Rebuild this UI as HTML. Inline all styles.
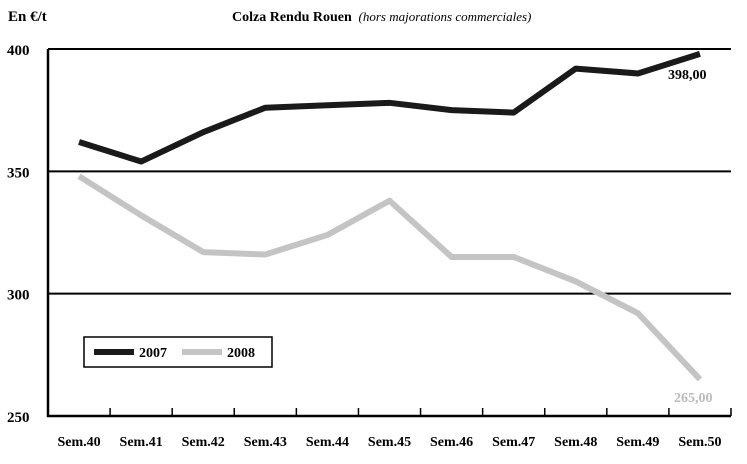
<!DOCTYPE html>
<html><head><meta charset="utf-8"><style>
body{margin:0;background:#fff;}
svg{display:block;font-family:"Liberation Serif",serif;font-weight:bold;}
</style></head><body>
<svg width="747" height="464">
<text x="8" y="21" font-size="15">En €/t</text>
<text x="232" y="21" font-size="14">Colza Rendu Rouen <tspan font-style="italic" font-weight="normal" font-size="13">&#160;(hors majorations commerciales)</tspan></text>
<g id="grid"></g>
<g id="axes"></g>
<g id="series"></g>
<g>
<rect x="84" y="337" width="188" height="30" fill="#fff" stroke="#000" stroke-width="1.5"/>
<line x1="94" y1="352" x2="134" y2="352" stroke="#1a1a1a" stroke-width="6"/>
<text x="139" y="357" font-size="14">2007</text>
<line x1="182" y1="352" x2="222" y2="352" stroke="#c4c4c4" stroke-width="6"/>
<text x="227" y="357" font-size="14">2008</text>
</g>
<text x="668" y="79" font-size="14">398,00</text>
<text x="674" y="402" font-size="14" fill="#bbb">265,00</text>
</svg>
<script>
const categories=["Sem.40","Sem.41","Sem.42","Sem.43","Sem.44","Sem.45","Sem.46","Sem.47","Sem.48","Sem.49","Sem.50"];
const series2007=[362,354,366,376,377,378,375,374,392,390,398];
const series2008=[348,332,317,316,324,338,315,315,305,292,265];
const yTicks=[250,300,350,400];
const NS="http://www.w3.org/2000/svg";
const L=48,R=731,yMin=250,yMax=400,yTop=49,yBot=416;
const bw=(R-L)/categories.length;
const x=i=>L+bw*(i+0.5);
const y=v=>yBot-(v-yMin)/(yMax-yMin)*(yBot-yTop);
function mk(t,a,p){const e=document.createElementNS(NS,t);for(const k in a)e.setAttribute(k,a[k]);p.appendChild(e);return e;}
const grid=document.getElementById('grid'),axes=document.getElementById('axes'),ser=document.getElementById('series');
yTicks.forEach(v=>{
 if(v>yMin){const g=mk('line',{x1:L,x2:R,y1:y(v),y2:y(v),stroke:'#000','stroke-width':2},grid);
 
 }
 const t=mk('text',{x:7,y:y(v)+6,'font-size':15},axes);t.textContent=v;
 
 
});
const ax=mk('path',{d:`M${L} ${yTop}V${yBot}H${R}`,fill:'none',stroke:'#000','stroke-width':2.5},axes);


categories.forEach((c,i)=>{
 const tk=mk('line',{x1:L+bw*(i+1),x2:L+bw*(i+1),y1:yBot,y2:yBot-8,stroke:'#000','stroke-width':1.5},axes);
 
 
 const t=mk('text',{x:x(i),y:446,'font-size':14,'text-anchor':'middle'},axes);t.textContent=c;
 
 
});
function line(d,col,name){const p=mk('polyline',{points:d.map((v,i)=>x(i)+','+y(v)).join(' '),fill:'none',stroke:col,'stroke-width':6,'stroke-linejoin':'round'},ser);
 
 }
line(series2008,'#c4c4c4','line-2008');
line(series2007,'#1a1a1a','line-2007');
</script>
</body></html>
